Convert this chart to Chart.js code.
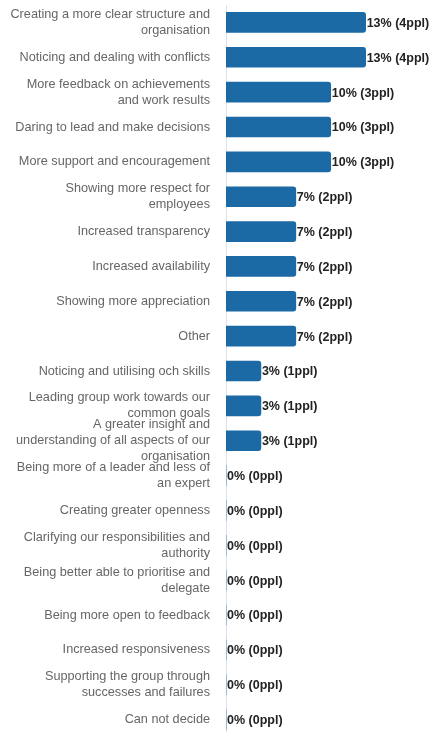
<!DOCTYPE html>
<html>
<head>
<meta charset="utf-8">
<script src="https://cdn.jsdelivr.net/npm/chart.js@4/dist/chart.umd.min.js"></script>
<style>
  html, body { margin: 0; padding: 0; background: #ffffff; overflow: hidden; }
  #wrap { position: relative; width: 432px; height: 737px; }
</style>
</head>
<body>
<div id="wrap"><canvas id="chart"></canvas></div>
<script>
// Survey answers: what the respondents would like to see more of
const categories = [
  ["Creating a more clear structure and", "organisation"],
  "Noticing and dealing with conflicts",
  ["More feedback on achievements", "and work results"],
  "Daring to lead and make decisions",
  "More support and encouragement",
  ["Showing more respect for", "employees"],
  "Increased transparency",
  "Increased availability",
  "Showing more appreciation",
  "Other",
  "Noticing and utilising och skills",
  ["Leading group work towards our", "common goals"],
  ["A greater insight and", "understanding of all aspects of our", "organisation"],
  ["Being more of a leader and less of", "an expert"],
  "Creating greater openness",
  ["Clarifying our responsibilities and", "authority"],
  ["Being better able to prioritise and", "delegate"],
  "Being more open to feedback",
  "Increased responsiveness",
  ["Supporting the group through", "successes and failures"],
  "Can not decide"
];

// Number of people choosing each answer
const people = [4, 4, 3, 3, 3, 2, 2, 2, 2, 2, 1, 1, 1, 0, 0, 0, 0, 0, 0, 0, 0];

// Share of respondents, as printed next to each bar
const percents = [13, 13, 10, 10, 10, 7, 7, 7, 7, 7, 3, 3, 3, 0, 0, 0, 0, 0, 0, 0, 0];

// Writes "NN% (Nppl)" just past the end of each bar
const valueLabels = {
  id: 'valueLabels',
  afterDatasetsDraw(chart) {
    const ctx = chart.ctx;
    const meta = chart.getDatasetMeta(0);
    ctx.save();
    ctx.font = 'bold 12.5px "Liberation Sans", Arial, sans-serif';
    ctx.fillStyle = '#222222';
    ctx.textAlign = 'left';
    ctx.textBaseline = 'middle';
    meta.data.forEach((bar, i) => {
      const text = percents[i] + '% (' + people[i] + 'ppl)';
      ctx.fillText(text, bar.x + 1, bar.y + 1);
    });
    ctx.restore();
  }
};

new Chart(document.getElementById('chart'), {
  type: 'bar',
  data: {
    labels: categories,
    datasets: [{
      data: people,
      backgroundColor: '#1c6aa5',
      borderRadius: 3,
      borderSkipped: 'start',
      barThickness: 20
    }]
  },
  options: {
    indexAxis: 'y',
    responsive: true,
    maintainAspectRatio: false,
    animation: false,
    layout: { padding: { top: 5, right: 0, bottom: 0, left: 0 } },
    plugins: {
      legend: { display: false },
      tooltip: { enabled: false }
    },
    scales: {
      x: {
        display: false,
        min: 0,
        max: 5.9
      },
      y: {
        grid: { display: false },
        border: { display: true, color: '#dbe2ee', width: 1 },
        ticks: {
          color: '#666666',
          padding: 8,
          autoSkip: false,
          font: { family: '"Liberation Sans", Arial, sans-serif', size: 12.7, lineHeight: 1.26 }
        },
        afterFit(scale) {
          scale.width = 226;
          scale.paddingTop = 0;
          scale.paddingBottom = 0;
        }
      }
    }
  },
  plugins: [valueLabels]
});
</script>
</body>
</html>
